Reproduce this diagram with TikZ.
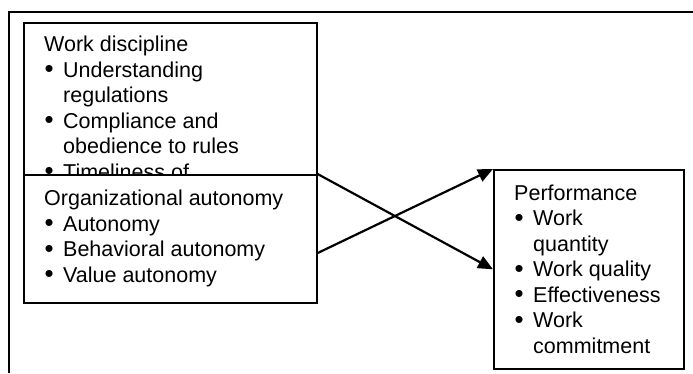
\documentclass[tikz,border=0pt]{standalone}
\usepackage{fontspec}
\usepackage{graphicx}
\setmainfont{Liberation Sans}
\usetikzlibrary{arrows.meta,calc}
\newcommand{\itm}[1]{\makebox[19pt][l]{\hspace{0.5pt}\raisebox{-0.8pt}{\scalebox{1.2}{\textbullet}}}#1}
\newcommand{\cnt}[1]{\hspace{19pt}#1}
\tikzset{
  boxframe/.style={draw, line width=1.6pt, fill=white, minimum width=#1, inner sep=0pt, anchor=north west},
  boxtext/.style={anchor=base west, align=left, inner sep=0pt, font=\fontsize{21.5}{25.5}\selectfont},
  link/.style={line width=2.2pt, -{Triangle[length=15pt,width=13pt]}},
  frame/.style={line width=2pt}
}
\begin{document}
\begin{tikzpicture}[x=1pt,y=-1pt]
\useasboundingbox (0,0) rectangle (693,373);
% outer frame (top and left edges)
\coordinate (fr1) at (693,12);
\coordinate (fr2) at (9,12);
\coordinate (fr3) at (9,373);
\draw[frame] (fr1) -- (fr2) -- (fr3);
% work discipline box (partly covered); anchor is baseline of last line
\node[boxframe=293pt, minimum height=268pt] (wd) at (23,22) {};
\node[boxtext] (wdt) at (44,179) {Work discipline\\
\itm{Understanding}\\
\cnt{regulations}\\
\itm{Compliance and}\\
\cnt{obedience to rules}\\
\itm{Timeliness of}};
% organizational autonomy box
\node[boxframe=293pt, minimum height=128pt] (org) at (23,174) {};
\node[boxtext] (orgt) at (44,282) {Organizational autonomy\\
\itm{Autonomy}\\
\itm{Behavioral autonomy}\\
\itm{Value autonomy}};
% performance box
\node[boxframe=190pt, minimum height=199pt] (perf) at (493,169) {};
\node[boxtext] (perft) at (514,353) {Performance\\
\itm{Work}\\
\cnt{quantity}\\
\itm{Work quality}\\
\itm{Effectiveness}\\
\itm{Work}\\
\cnt{commitment}};
% connectors
\coordinate (orgb) at ($(org.north east)!0.61!(org.south east)$);
\draw[link] (org.north east) -- (perf.west);
\draw[link] (orgb) -- (perf.north west);
\end{tikzpicture}
\end{document}
